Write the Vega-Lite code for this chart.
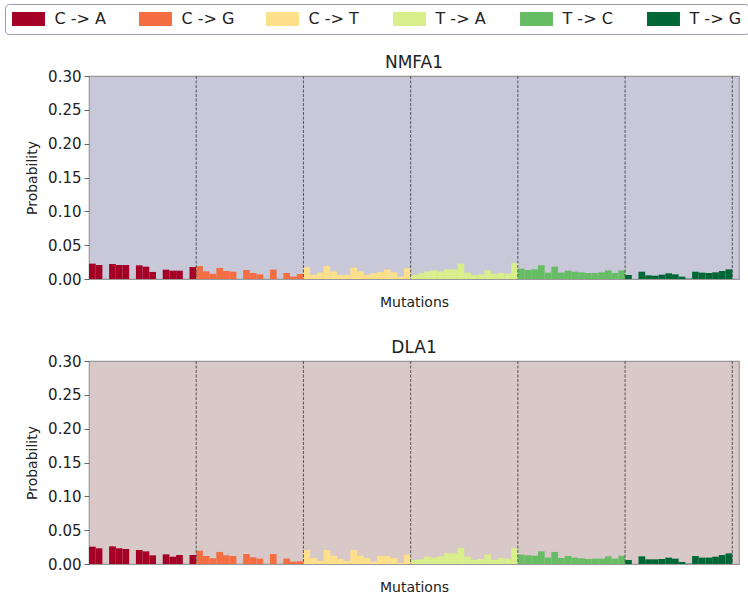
{
  "$schema": "https://vega.github.io/schema/vega-lite/v6.json",
  "padding": {"left": 4, "top": 3, "right": 0, "bottom": 0},
  "config": {
    "font": "DejaVu Sans",
    "title": {"font": "DejaVu Sans", "fontSize": 17, "fontWeight": "normal", "color": "#222222", "frame": "group", "anchor": "middle", "offset": -3},
    "axisY": {"values": [0, 0.05, 0.1, 0.15, 0.2, 0.25, 0.3], "format": ".2f", "labelFont": "DejaVu Sans", "labelFontSize": 15, "labelColor": "#222222", "tickColor": "#666666", "tickSize": 5, "labelPadding": 3, "domain": false, "grid": false, "titleFont": "DejaVu Sans", "titleFontSize": 14, "titleFontWeight": "normal", "titleColor": "#222222", "titlePadding": 8},
    "axisX": {"labels": false, "ticks": false, "domain": false, "grid": false, "titleFont": "DejaVu Sans", "titleFontSize": 14, "titleFontWeight": "normal", "titleColor": "#222222", "titlePadding": 16},
    "legend": {
      "orient": "none", "legendX": -84, "legendY": -72, "direction": "horizontal", "title": null,
      "symbolType": "M-2.06,-0.875H2.06V0.875H-2.06Z", "symbolSize": 256, "symbolOffset": 8.5, "symbolStrokeWidth": 0, "symbolOpacity": 1,
      "labelOffset": 18, "labelFont": "DejaVu Sans", "labelFontSize": 16, "labelColor": "#222222", "columnPadding": 31, "gridAlign": "all",
      "padding": 7, "strokeColor": "#9a9ab4", "fillColor": "#ffffff", "cornerRadius": 4
    }
  },
  "data": {"values": [
    {"sig":"NMFA1","mut":"C -> A","ctx":"A[C>A]A","p":0.0227},{"sig":"NMFA1","mut":"C -> A","ctx":"A[C>A]C","p":0.0207},{"sig":"NMFA1","mut":"C -> A","ctx":"A[C>A]G","p":0.0},{"sig":"NMFA1","mut":"C -> A","ctx":"A[C>A]T","p":0.0222},
    {"sig":"NMFA1","mut":"C -> A","ctx":"C[C>A]A","p":0.0207},{"sig":"NMFA1","mut":"C -> A","ctx":"C[C>A]C","p":0.0207},{"sig":"NMFA1","mut":"C -> A","ctx":"C[C>A]G","p":0.0},{"sig":"NMFA1","mut":"C -> A","ctx":"C[C>A]T","p":0.0202},
    {"sig":"NMFA1","mut":"C -> A","ctx":"G[C>A]A","p":0.0182},{"sig":"NMFA1","mut":"C -> A","ctx":"G[C>A]C","p":0.0104},{"sig":"NMFA1","mut":"C -> A","ctx":"G[C>A]G","p":0.0},{"sig":"NMFA1","mut":"C -> A","ctx":"G[C>A]T","p":0.0138},
    {"sig":"NMFA1","mut":"C -> A","ctx":"T[C>A]A","p":0.0123},{"sig":"NMFA1","mut":"C -> A","ctx":"T[C>A]C","p":0.0123},{"sig":"NMFA1","mut":"C -> A","ctx":"T[C>A]G","p":0.0},{"sig":"NMFA1","mut":"C -> A","ctx":"T[C>A]T","p":0.0178},
    {"sig":"NMFA1","mut":"C -> G","ctx":"A[C>G]A","p":0.0192},{"sig":"NMFA1","mut":"C -> G","ctx":"A[C>G]C","p":0.0113},{"sig":"NMFA1","mut":"C -> G","ctx":"A[C>G]G","p":0.0079},{"sig":"NMFA1","mut":"C -> G","ctx":"A[C>G]T","p":0.0163},
    {"sig":"NMFA1","mut":"C -> G","ctx":"C[C>G]A","p":0.0118},{"sig":"NMFA1","mut":"C -> G","ctx":"C[C>G]C","p":0.0108},{"sig":"NMFA1","mut":"C -> G","ctx":"C[C>G]G","p":0.0},{"sig":"NMFA1","mut":"C -> G","ctx":"C[C>G]T","p":0.0133},
    {"sig":"NMFA1","mut":"C -> G","ctx":"G[C>G]A","p":0.0089},{"sig":"NMFA1","mut":"C -> G","ctx":"G[C>G]C","p":0.0069},{"sig":"NMFA1","mut":"C -> G","ctx":"G[C>G]G","p":0.0},{"sig":"NMFA1","mut":"C -> G","ctx":"G[C>G]T","p":0.0138},
    {"sig":"NMFA1","mut":"C -> G","ctx":"T[C>G]A","p":0.0},{"sig":"NMFA1","mut":"C -> G","ctx":"T[C>G]C","p":0.0089},{"sig":"NMFA1","mut":"C -> G","ctx":"T[C>G]G","p":0.0035},{"sig":"NMFA1","mut":"C -> G","ctx":"T[C>G]T","p":0.0074},
    {"sig":"NMFA1","mut":"C -> T","ctx":"A[C>T]A","p":0.0173},{"sig":"NMFA1","mut":"C -> T","ctx":"A[C>T]C","p":0.0064},{"sig":"NMFA1","mut":"C -> T","ctx":"A[C>T]G","p":0.0094},{"sig":"NMFA1","mut":"C -> T","ctx":"A[C>T]T","p":0.0192},
    {"sig":"NMFA1","mut":"C -> T","ctx":"C[C>T]A","p":0.0113},{"sig":"NMFA1","mut":"C -> T","ctx":"C[C>T]C","p":0.0059},{"sig":"NMFA1","mut":"C -> T","ctx":"C[C>T]G","p":0.0064},{"sig":"NMFA1","mut":"C -> T","ctx":"C[C>T]T","p":0.0168},
    {"sig":"NMFA1","mut":"C -> T","ctx":"G[C>T]A","p":0.0113},{"sig":"NMFA1","mut":"C -> T","ctx":"G[C>T]C","p":0.0064},{"sig":"NMFA1","mut":"C -> T","ctx":"G[C>T]G","p":0.0084},{"sig":"NMFA1","mut":"C -> T","ctx":"G[C>T]T","p":0.0104},
    {"sig":"NMFA1","mut":"C -> T","ctx":"T[C>T]A","p":0.0138},{"sig":"NMFA1","mut":"C -> T","ctx":"T[C>T]C","p":0.0099},{"sig":"NMFA1","mut":"C -> T","ctx":"T[C>T]G","p":0.0035},{"sig":"NMFA1","mut":"C -> T","ctx":"T[C>T]T","p":0.0158},
    {"sig":"NMFA1","mut":"T -> A","ctx":"A[T>A]A","p":0.0059},{"sig":"NMFA1","mut":"T -> A","ctx":"A[T>A]C","p":0.0084},{"sig":"NMFA1","mut":"T -> A","ctx":"A[T>A]G","p":0.0113},{"sig":"NMFA1","mut":"T -> A","ctx":"A[T>A]T","p":0.0128},
    {"sig":"NMFA1","mut":"T -> A","ctx":"C[T>A]A","p":0.0113},{"sig":"NMFA1","mut":"T -> A","ctx":"C[T>A]C","p":0.0143},{"sig":"NMFA1","mut":"T -> A","ctx":"C[T>A]G","p":0.0143},{"sig":"NMFA1","mut":"T -> A","ctx":"C[T>A]T","p":0.0227},
    {"sig":"NMFA1","mut":"T -> A","ctx":"G[T>A]A","p":0.0094},{"sig":"NMFA1","mut":"T -> A","ctx":"G[T>A]C","p":0.0059},{"sig":"NMFA1","mut":"T -> A","ctx":"G[T>A]G","p":0.0069},{"sig":"NMFA1","mut":"T -> A","ctx":"G[T>A]T","p":0.0128},
    {"sig":"NMFA1","mut":"T -> A","ctx":"T[T>A]A","p":0.0074},{"sig":"NMFA1","mut":"T -> A","ctx":"T[T>A]C","p":0.0089},{"sig":"NMFA1","mut":"T -> A","ctx":"T[T>A]G","p":0.0079},{"sig":"NMFA1","mut":"T -> A","ctx":"T[T>A]T","p":0.0237},
    {"sig":"NMFA1","mut":"T -> C","ctx":"A[T>C]A","p":0.0153},{"sig":"NMFA1","mut":"T -> C","ctx":"A[T>C]C","p":0.0133},{"sig":"NMFA1","mut":"T -> C","ctx":"A[T>C]G","p":0.0143},{"sig":"NMFA1","mut":"T -> C","ctx":"A[T>C]T","p":0.0202},
    {"sig":"NMFA1","mut":"T -> C","ctx":"C[T>C]A","p":0.0094},{"sig":"NMFA1","mut":"T -> C","ctx":"C[T>C]C","p":0.0182},{"sig":"NMFA1","mut":"T -> C","ctx":"C[T>C]G","p":0.0094},{"sig":"NMFA1","mut":"T -> C","ctx":"C[T>C]T","p":0.0123},
    {"sig":"NMFA1","mut":"T -> C","ctx":"G[T>C]A","p":0.0108},{"sig":"NMFA1","mut":"T -> C","ctx":"G[T>C]C","p":0.0099},{"sig":"NMFA1","mut":"T -> C","ctx":"G[T>C]G","p":0.0089},{"sig":"NMFA1","mut":"T -> C","ctx":"G[T>C]T","p":0.0089},
    {"sig":"NMFA1","mut":"T -> C","ctx":"T[T>C]A","p":0.0099},{"sig":"NMFA1","mut":"T -> C","ctx":"T[T>C]C","p":0.0128},{"sig":"NMFA1","mut":"T -> C","ctx":"T[T>C]G","p":0.009},{"sig":"NMFA1","mut":"T -> C","ctx":"T[T>C]T","p":0.0128},
    {"sig":"NMFA1","mut":"T -> G","ctx":"A[T>G]A","p":0.0059},{"sig":"NMFA1","mut":"T -> G","ctx":"A[T>G]C","p":0.0},{"sig":"NMFA1","mut":"T -> G","ctx":"A[T>G]G","p":0.0108},{"sig":"NMFA1","mut":"T -> G","ctx":"A[T>G]T","p":0.0054},
    {"sig":"NMFA1","mut":"T -> G","ctx":"C[T>G]A","p":0.0049},{"sig":"NMFA1","mut":"T -> G","ctx":"C[T>G]C","p":0.0064},{"sig":"NMFA1","mut":"T -> G","ctx":"C[T>G]G","p":0.0084},{"sig":"NMFA1","mut":"T -> G","ctx":"C[T>G]T","p":0.0069},
    {"sig":"NMFA1","mut":"T -> G","ctx":"G[T>G]A","p":0.0035},{"sig":"NMFA1","mut":"T -> G","ctx":"G[T>G]C","p":0.0005},{"sig":"NMFA1","mut":"T -> G","ctx":"G[T>G]G","p":0.0108},{"sig":"NMFA1","mut":"T -> G","ctx":"G[T>G]T","p":0.0094},
    {"sig":"NMFA1","mut":"T -> G","ctx":"T[T>G]A","p":0.0089},{"sig":"NMFA1","mut":"T -> G","ctx":"T[T>G]C","p":0.0099},{"sig":"NMFA1","mut":"T -> G","ctx":"T[T>G]G","p":0.0118},{"sig":"NMFA1","mut":"T -> G","ctx":"T[T>G]T","p":0.0143},

    {"sig":"DLA1","mut":"C -> A","ctx":"A[C>A]A","p":0.0256},{"sig":"DLA1","mut":"C -> A","ctx":"A[C>A]C","p":0.0232},{"sig":"DLA1","mut":"C -> A","ctx":"A[C>A]G","p":0.0},{"sig":"DLA1","mut":"C -> A","ctx":"A[C>A]T","p":0.0261},
    {"sig":"DLA1","mut":"C -> A","ctx":"C[C>A]A","p":0.0232},{"sig":"DLA1","mut":"C -> A","ctx":"C[C>A]C","p":0.0222},{"sig":"DLA1","mut":"C -> A","ctx":"C[C>A]G","p":0.0},{"sig":"DLA1","mut":"C -> A","ctx":"C[C>A]T","p":0.0207},
    {"sig":"DLA1","mut":"C -> A","ctx":"G[C>A]A","p":0.0187},{"sig":"DLA1","mut":"C -> A","ctx":"G[C>A]C","p":0.0128},{"sig":"DLA1","mut":"C -> A","ctx":"G[C>A]G","p":0.0},{"sig":"DLA1","mut":"C -> A","ctx":"G[C>A]T","p":0.0143},
    {"sig":"DLA1","mut":"C -> A","ctx":"T[C>A]A","p":0.0108},{"sig":"DLA1","mut":"C -> A","ctx":"T[C>A]C","p":0.0133},{"sig":"DLA1","mut":"C -> A","ctx":"T[C>A]G","p":0.0},{"sig":"DLA1","mut":"C -> A","ctx":"T[C>A]T","p":0.0133},
    {"sig":"DLA1","mut":"C -> G","ctx":"A[C>G]A","p":0.0197},{"sig":"DLA1","mut":"C -> G","ctx":"A[C>G]C","p":0.0118},{"sig":"DLA1","mut":"C -> G","ctx":"A[C>G]G","p":0.0084},{"sig":"DLA1","mut":"C -> G","ctx":"A[C>G]T","p":0.0178},
    {"sig":"DLA1","mut":"C -> G","ctx":"C[C>G]A","p":0.0128},{"sig":"DLA1","mut":"C -> G","ctx":"C[C>G]C","p":0.0118},{"sig":"DLA1","mut":"C -> G","ctx":"C[C>G]G","p":0.0},{"sig":"DLA1","mut":"C -> G","ctx":"C[C>G]T","p":0.0148},
    {"sig":"DLA1","mut":"C -> G","ctx":"G[C>G]A","p":0.0099},{"sig":"DLA1","mut":"C -> G","ctx":"G[C>G]C","p":0.0079},{"sig":"DLA1","mut":"C -> G","ctx":"G[C>G]G","p":0.0},{"sig":"DLA1","mut":"C -> G","ctx":"G[C>G]T","p":0.0148},
    {"sig":"DLA1","mut":"C -> G","ctx":"T[C>G]A","p":0.0},{"sig":"DLA1","mut":"C -> G","ctx":"T[C>G]C","p":0.0079},{"sig":"DLA1","mut":"C -> G","ctx":"T[C>G]G","p":0.0035},{"sig":"DLA1","mut":"C -> G","ctx":"T[C>G]T","p":0.0039},
    {"sig":"DLA1","mut":"C -> T","ctx":"A[C>T]A","p":0.0207},{"sig":"DLA1","mut":"C -> T","ctx":"A[C>T]C","p":0.0089},{"sig":"DLA1","mut":"C -> T","ctx":"A[C>T]G","p":0.0044},{"sig":"DLA1","mut":"C -> T","ctx":"A[C>T]T","p":0.0207},
    {"sig":"DLA1","mut":"C -> T","ctx":"C[C>T]A","p":0.0123},{"sig":"DLA1","mut":"C -> T","ctx":"C[C>T]C","p":0.0074},{"sig":"DLA1","mut":"C -> T","ctx":"C[C>T]G","p":0.0044},{"sig":"DLA1","mut":"C -> T","ctx":"C[C>T]T","p":0.0207},
    {"sig":"DLA1","mut":"C -> T","ctx":"G[C>T]A","p":0.0123},{"sig":"DLA1","mut":"C -> T","ctx":"G[C>T]C","p":0.0089},{"sig":"DLA1","mut":"C -> T","ctx":"G[C>T]G","p":0.0035},{"sig":"DLA1","mut":"C -> T","ctx":"G[C>T]T","p":0.0118},
    {"sig":"DLA1","mut":"C -> T","ctx":"T[C>T]A","p":0.0118},{"sig":"DLA1","mut":"C -> T","ctx":"T[C>T]C","p":0.0089},{"sig":"DLA1","mut":"C -> T","ctx":"T[C>T]G","p":0.0015},{"sig":"DLA1","mut":"C -> T","ctx":"T[C>T]T","p":0.0138},
    {"sig":"DLA1","mut":"T -> A","ctx":"A[T>A]A","p":0.0059},{"sig":"DLA1","mut":"T -> A","ctx":"A[T>A]C","p":0.0069},{"sig":"DLA1","mut":"T -> A","ctx":"A[T>A]G","p":0.0108},{"sig":"DLA1","mut":"T -> A","ctx":"A[T>A]T","p":0.0094},
    {"sig":"DLA1","mut":"T -> A","ctx":"C[T>A]A","p":0.0113},{"sig":"DLA1","mut":"T -> A","ctx":"C[T>A]C","p":0.0158},{"sig":"DLA1","mut":"T -> A","ctx":"C[T>A]G","p":0.0158},{"sig":"DLA1","mut":"T -> A","ctx":"C[T>A]T","p":0.0237},
    {"sig":"DLA1","mut":"T -> A","ctx":"G[T>A]A","p":0.0108},{"sig":"DLA1","mut":"T -> A","ctx":"G[T>A]C","p":0.0059},{"sig":"DLA1","mut":"T -> A","ctx":"G[T>A]G","p":0.0074},{"sig":"DLA1","mut":"T -> A","ctx":"G[T>A]T","p":0.0143},
    {"sig":"DLA1","mut":"T -> A","ctx":"T[T>A]A","p":0.0059},{"sig":"DLA1","mut":"T -> A","ctx":"T[T>A]C","p":0.0089},{"sig":"DLA1","mut":"T -> A","ctx":"T[T>A]G","p":0.0079},{"sig":"DLA1","mut":"T -> A","ctx":"T[T>A]T","p":0.0237},
    {"sig":"DLA1","mut":"T -> C","ctx":"A[T>C]A","p":0.0138},{"sig":"DLA1","mut":"T -> C","ctx":"A[T>C]C","p":0.0128},{"sig":"DLA1","mut":"T -> C","ctx":"A[T>C]G","p":0.0123},{"sig":"DLA1","mut":"T -> C","ctx":"A[T>C]T","p":0.0187},
    {"sig":"DLA1","mut":"T -> C","ctx":"C[T>C]A","p":0.0094},{"sig":"DLA1","mut":"T -> C","ctx":"C[T>C]C","p":0.0178},{"sig":"DLA1","mut":"T -> C","ctx":"C[T>C]G","p":0.0089},{"sig":"DLA1","mut":"T -> C","ctx":"C[T>C]T","p":0.0118},
    {"sig":"DLA1","mut":"T -> C","ctx":"G[T>C]A","p":0.0094},{"sig":"DLA1","mut":"T -> C","ctx":"G[T>C]C","p":0.0084},{"sig":"DLA1","mut":"T -> C","ctx":"G[T>C]G","p":0.0074},{"sig":"DLA1","mut":"T -> C","ctx":"G[T>C]T","p":0.0079},
    {"sig":"DLA1","mut":"T -> C","ctx":"T[T>C]A","p":0.0079},{"sig":"DLA1","mut":"T -> C","ctx":"T[T>C]C","p":0.0113},{"sig":"DLA1","mut":"T -> C","ctx":"T[T>C]G","p":0.0079},{"sig":"DLA1","mut":"T -> C","ctx":"T[T>C]T","p":0.0123},
    {"sig":"DLA1","mut":"T -> G","ctx":"A[T>G]A","p":0.0059},{"sig":"DLA1","mut":"T -> G","ctx":"A[T>G]C","p":0.0},{"sig":"DLA1","mut":"T -> G","ctx":"A[T>G]G","p":0.0113},{"sig":"DLA1","mut":"T -> G","ctx":"A[T>G]T","p":0.0069},
    {"sig":"DLA1","mut":"T -> G","ctx":"C[T>G]A","p":0.0069},{"sig":"DLA1","mut":"T -> G","ctx":"C[T>G]C","p":0.0074},{"sig":"DLA1","mut":"T -> G","ctx":"C[T>G]G","p":0.0094},{"sig":"DLA1","mut":"T -> G","ctx":"C[T>G]T","p":0.0079},
    {"sig":"DLA1","mut":"T -> G","ctx":"G[T>G]A","p":0.003},{"sig":"DLA1","mut":"T -> G","ctx":"G[T>G]C","p":0.0005},{"sig":"DLA1","mut":"T -> G","ctx":"G[T>G]G","p":0.0118},{"sig":"DLA1","mut":"T -> G","ctx":"G[T>G]T","p":0.0094},
    {"sig":"DLA1","mut":"T -> G","ctx":"T[T>G]A","p":0.0094},{"sig":"DLA1","mut":"T -> G","ctx":"T[T>G]C","p":0.0108},{"sig":"DLA1","mut":"T -> G","ctx":"T[T>G]G","p":0.0133},{"sig":"DLA1","mut":"T -> G","ctx":"T[T>G]T","p":0.0158}
  ]},
  "spacing": 28,
  "vconcat": [
    {
      "title": "NMFA1",
      "width": 650, "height": 203,
      "view": {"fill": "#c8c8d8", "stroke": "#999999", "strokeWidth": 1.2},
      "transform": [{"filter": {"field": "sig", "equal": "NMFA1"}}],
      "layer": [
        {"mark": {"type": "bar"},
         "encoding": {
           "x": {"field": "ctx", "type": "ordinal", "sort": null, "axis": {"title": "Mutations"}, "scale": {"paddingInner": 0, "paddingOuter": 0.5, "align": 0}},
           "y": {"field": "p", "type": "quantitative", "axis": {"title": "Probability"}, "scale": {"domain": [0, 0.3], "nice": false, "zero": true}},
           "color": {"field": "mut", "type": "nominal", "scale": {"domain": ["C -> A","C -> G","C -> T","T -> A","T -> C","T -> G"], "range": ["#a50026","#f46d43","#fee08b","#d9ef8b","#66bd63","#006837"]}}
         }},
        {"mark": {"type": "rule", "color": "#555555", "strokeWidth": 1, "strokeDash": [3, 1.5]},
         "transform": [{"filter": {"field": "ctx", "oneOf": ["A[C>G]A","A[C>T]A","A[T>A]A","A[T>C]A","A[T>G]A"]}}],
         "encoding": {"x": {"field": "ctx", "type": "ordinal", "sort": null, "bandPosition": 0}}},
        {"mark": {"type": "rule", "color": "#555555", "strokeWidth": 1, "strokeDash": [3, 1.5]},
         "transform": [{"filter": {"field": "ctx", "equal": "T[T>G]T"}}],
         "encoding": {"x": {"field": "ctx", "type": "ordinal", "sort": null, "bandPosition": 1}}}
      ]
    },
    {
      "title": "DLA1",
      "width": 650, "height": 203,
      "view": {"fill": "#d8c8c8", "stroke": "#999999", "strokeWidth": 1.2},
      "transform": [{"filter": {"field": "sig", "equal": "DLA1"}}],
      "layer": [
        {"mark": {"type": "bar"},
         "encoding": {
           "x": {"field": "ctx", "type": "ordinal", "sort": null, "axis": {"title": "Mutations"}, "scale": {"paddingInner": 0, "paddingOuter": 0.5, "align": 0}},
           "y": {"field": "p", "type": "quantitative", "axis": {"title": "Probability"}, "scale": {"domain": [0, 0.3], "nice": false, "zero": true}},
           "color": {"field": "mut", "type": "nominal", "scale": {"domain": ["C -> A","C -> G","C -> T","T -> A","T -> C","T -> G"], "range": ["#a50026","#f46d43","#fee08b","#d9ef8b","#66bd63","#006837"]}}
         }},
        {"mark": {"type": "rule", "color": "#555555", "strokeWidth": 1, "strokeDash": [3, 1.5]},
         "transform": [{"filter": {"field": "ctx", "oneOf": ["A[C>G]A","A[C>T]A","A[T>A]A","A[T>C]A","A[T>G]A"]}}],
         "encoding": {"x": {"field": "ctx", "type": "ordinal", "sort": null, "bandPosition": 0}}},
        {"mark": {"type": "rule", "color": "#555555", "strokeWidth": 1, "strokeDash": [3, 1.5]},
         "transform": [{"filter": {"field": "ctx", "equal": "T[T>G]T"}}],
         "encoding": {"x": {"field": "ctx", "type": "ordinal", "sort": null, "bandPosition": 1}}}
      ]
    }
  ]
}
